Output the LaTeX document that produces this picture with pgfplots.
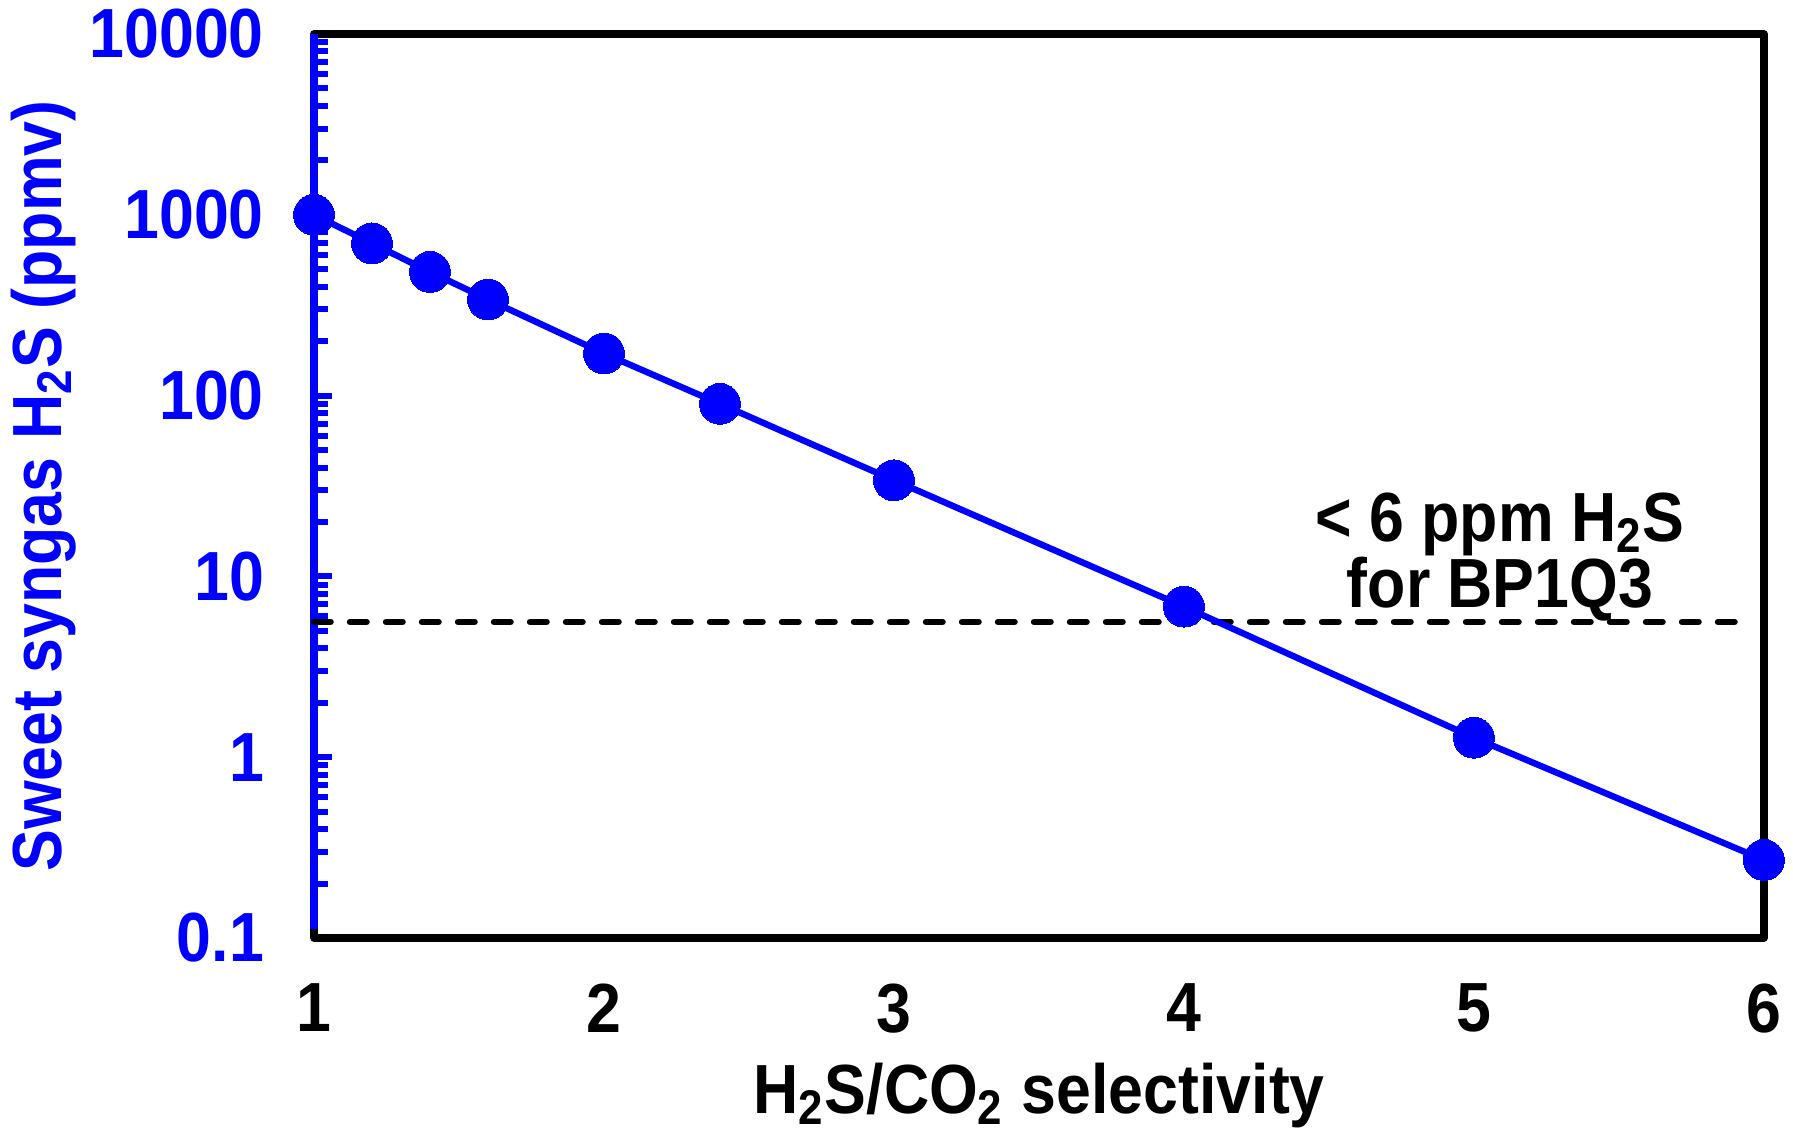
\documentclass[border=0pt]{standalone}
\usepackage{pgfplots}
\pgfplotsset{compat=1.18}
\usepackage{fontspec}
\setmainfont{Liberation Sans}[FakeStretch=0.9]
\definecolor{pblue}{RGB}{0,0,255}

\begin{document}
\begin{tikzpicture}
\useasboundingbox (-78.5pt,-48pt) rectangle (369.75pt,234.5pt);
\begin{axis}[
    at={(0,0)}, anchor=south west,
    scale only axis,
    width=362.5pt, height=226pt,
    xmin=1, xmax=6,
    ymode=log, ymin=0.1, ymax=10000,
    xtick={1,2,3,4,5,6},
    xticklabels={1,2,3,4,5,6},
    ytick={0.1,1,10,100,1000,10000},
    yticklabels={0.1,1,10,100,1000,10000},
    xtick style={draw=none},
    ytick pos=left,
    tick align=inside,
    y tick style={pblue, line width=1.5pt},
    major tick length=4.6pt,
    minor tick length=3.6pt,
    axis line style={line width=1.8pt, line join=round, black},
    tick label style={font=\bfseries\fontsize{17.4}{19}\selectfont},
    xticklabel style={yshift=-8pt},
    yticklabel style={pblue, xshift=-9pt},
    label style={font=\bfseries\fontsize{17.4}{19}\selectfont},
    xlabel={H\textsubscript{2}S/CO\textsubscript{2} selectivity},
    ylabel={Sweet syngas H\textsubscript{2}S (ppmv)},
    ylabel style={pblue, yshift=-3.5pt},
    xlabel style={yshift=-0.6pt},
    clip=false,
]
\draw[pblue, line width=1.8pt] (rel axis cs:0,0.01) -- (rel axis cs:0,1);

\addplot[black, line width=1.6pt, line cap=round, dash pattern=on 4.15pt off 4.85pt]
  coordinates {(1,5.6) (5.92,5.6)};

\addplot[pblue, line width=1.6pt, mark=*, mark size=5.1pt,
  mark options={fill=pblue, draw=pblue, line width=0pt}] coordinates {
  (1,1000) (1.2,695) (1.4,483) (1.6,340) (2,171) (2.4,90)
  (3,34) (4,6.8) (5,1.28) (6,0.27)
};

\node[align=center, font=\bfseries\fontsize{17.4}{16.4}\selectfont]
  at (axis cs:5.09,12.8) {< 6 ppm H\textsubscript{2}S\\for BP1Q3};
\end{axis}
\end{tikzpicture}
\end{document}
